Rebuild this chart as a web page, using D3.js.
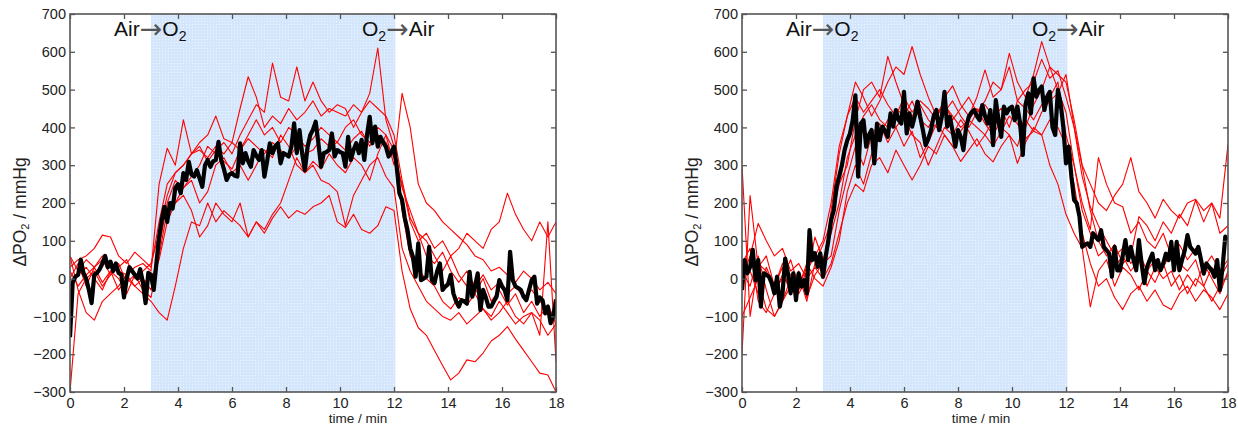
<!DOCTYPE html>
<html><head><meta charset="utf-8">
<script src="https://cdn.jsdelivr.net/npm/d3@7"></script>
<style>
html,body{margin:0;padding:0;background:#fff;}
svg{display:block;font-family:"Liberation Sans",Arial,sans-serif;}
</style></head><body>
<svg id="c" width="1238" height="427"></svg>
<script>
// ---------- data ----------
const xTicks=[0,2,4,6,8,10,12,14,16,18];
const yTicks=[-300,-200,-100,0,100,200,300,400,500,600,700];
const o2Start=3, o2End=12.05;
const meanStep=0.1, redStep=0.3;

// left panel: mean (black), sampled every 0.1 min
const leftMean=[
-155,-10,5,10,50,15,0,-30,-65,10,
15,25,40,60,30,45,20,40,15,10,
-50,0,30,20,10,0,25,-10,-65,15,
10,-30,40,110,155,190,150,200,185,240,
250,226,279,261,309,275,270,287,265,243,
300,314,296,310,314,362,314,290,261,275,
279,272,270,358,305,332,310,296,340,325,
314,340,270,310,358,332,350,358,305,332,
328,323,349,411,332,393,330,287,349,380,
394,415,358,296,332,335,340,384,323,340,
335,332,296,375,314,340,358,332,367,314,
380,428,358,402,349,375,360,349,323,335,
349,296,226,208,160,129,80,58,5,93,
-4,0,5,84,-4,-12,20,40,-30,-21,
-15,10,-39,-60,-74,-57,-60,-66,18,-48,
-20,14,-83,-30,-50,-74,-74,-60,-48,-4,
-20,-30,-57,71,-4,-21,-25,-30,-48,-57,
-30,-4,5,-66,-50,-57,-92,-74,-118,-100,
-55];
// left panel: individual traces (red), sampled every 0.3 min
const leftRed1=[60,20,50,30,60,40,20,10,30,40,20,
250,345,300,420,330,360,380,430,370,360,
450,534,480,400,430,410,450,420,440,470,
430,450,440,430,460,440,470,450,430,380,
260,160,120,60,40,70,20,-10,20,-20,
10,-30,-10,-40,-20,-50,-30,-60,-80,-100];
const leftRed2=[0,40,-20,30,50,10,30,50,0,20,40,
120,220,280,300,330,350,310,340,360,330,
380,420,460,440,570,480,470,560,470,520,
470,440,460,450,400,440,490,610,420,350,
240,180,120,100,60,20,60,10,-20,-40,
0,-60,-30,-70,-40,-90,-60,-100,-70,-120];
const leftRed3=[-20,10,30,0,-30,20,0,-40,10,-10,0,
50,150,200,240,260,200,230,300,320,280,
300,260,300,340,320,380,350,300,280,310,
290,330,300,280,320,300,260,330,380,300,
490,400,250,200,180,150,130,110,90,60,
50,20,30,10,-10,20,0,-30,-10,-40];
const leftRed4=[20,-20,10,30,-10,20,-30,0,-20,-40,-60,
-90,-110,-20,80,150,140,200,150,180,160,
140,110,150,120,160,190,160,180,170,190,
200,220,150,135,170,130,120,140,190,180,
20,-80,-130,-150,-190,-230,-268,-250,-215,-220,
-197,-165,-150,-127,-160,-190,-220,-250,-255,-300];
const leftRed5=[-300,-40,0,20,-20,10,40,-10,10,-30,-50,
60,180,200,220,180,110,140,200,170,150,
200,110,150,130,170,200,260,320,280,300,
260,250,230,140,220,260,300,320,270,240,
80,20,-20,-60,-80,-100,-110,-90,-120,-100,
-80,-110,-90,-60,-100,-120,-90,-110,-150,-120];
const leftRed6=[30,50,60,80,115,110,60,40,70,50,30,
150,250,280,300,330,340,320,350,330,360,
340,370,350,330,360,340,320,350,330,340,
370,350,360,340,370,390,350,380,360,320,
250,150,100,120,80,100,60,80,120,100,
80,130,150,226,170,130,100,150,110,150];
const leftRed7=[60,-30,-90,-110,-60,-40,-20,10,-20,0,-30,
80,200,260,240,270,300,350,330,310,290,
340,380,420,380,400,360,400,380,350,370,
400,380,360,400,420,380,360,400,380,340,
180,60,20,0,-20,-60,-80,-50,-70,-40,
-80,-100,-60,-90,-120,-100,-90,-150,150,-220];

// right panel
const rightMean=[
-30,49,14,31,76,-4,49,-74,14,10,
5,-12,-39,5,-74,-39,53,14,-39,14,
-57,14,-21,-4,-39,128,49,67,31,67,
5,58,102,155,181,243,270,300,340,366,
384,419,485,270,410,419,349,380,393,305,
410,366,402,390,375,437,402,446,420,410,
494,384,437,402,430,468,428,393,353,370,
393,430,446,393,428,494,402,428,390,349,
393,375,340,400,428,440,446,430,419,459,
430,410,446,353,472,420,375,455,437,450,
455,419,455,410,327,460,490,437,530,481,
499,508,446,481,494,400,380,499,464,402,
305,349,270,208,199,164,84,90,93,84,
120,110,102,128,84,75,66,5,84,22,
22,60,102,49,84,50,22,102,40,-12,
30,49,66,22,49,22,40,66,49,97,
22,97,22,50,75,115,84,75,66,84,
50,13,40,30,22,5,49,-30,31,111,
102];
const rightRed1=[300,-100,40,20,-30,0,50,-20,30,60,20,
180,330,430,520,480,430,470,520,560,540,
614,540,480,430,460,420,450,480,440,470,
520,500,560,470,500,520,580,530,550,480,
400,270,190,140,100,60,80,40,70,20,
50,30,70,40,20,50,-20,30,0,40];
const rightRed2=[-200,220,30,60,-20,30,-40,10,-60,40,90,
150,250,300,420,500,520,480,588,520,460,
430,460,420,400,440,470,430,400,440,460,
430,450,400,470,450,420,460,480,520,380,
300,200,130,320,250,200,190,120,150,100,
80,120,60,90,50,80,30,60,20,50];
const rightRed3=[0,60,146,100,60,80,20,40,0,110,50,
120,200,320,380,430,460,420,400,450,430,
470,420,400,440,460,430,400,420,450,410,
380,420,450,430,400,460,500,560,540,520,
420,300,250,200,180,220,250,320,230,200,
160,210,180,160,200,210,180,200,160,355];
const rightRed4=[-100,-50,0,-80,-100,-60,-20,-40,0,30,0,
40,120,200,250,230,300,320,280,340,300,
261,300,350,330,380,350,310,340,370,330,
309,350,380,305,360,400,380,420,400,350,
250,120,40,-20,0,-50,-82,-40,-20,-60,
-30,-70,-82,-40,-20,-60,-30,-50,-82,-40];
const rightRed5=[50,20,-40,30,-20,40,10,-30,20,60,100,
200,350,430,480,440,470,500,460,430,480,
440,470,450,420,480,510,460,430,480,552,
480,500,596,520,480,540,627,560,500,440,
300,180,120,60,80,30,60,20,50,-20,
30,0,20,-30,10,-20,40,0,-40,20];
const rightRed6=[40,80,-60,-90,-40,10,-30,20,-50,10,40,
60,180,270,350,300,380,410,360,400,430,
380,360,300,350,400,380,420,390,350,380,
420,400,380,350,420,390,380,300,250,170,
120,80,-75,20,50,-20,30,10,-30,20,
-10,40,-20,10,-40,0,-20,-60,-20,10];
const rightRed7=[20,-20,60,-30,-100,-60,0,-20,40,0,-20,
30,100,230,300,250,330,380,420,400,350,
390,320,360,410,380,350,390,420,400,380,
350,390,430,410,370,390,440,470,490,540,
402,296,180,100,60,90,40,60,164,140,
100,150,120,170,140,208,150,199,120,140];

// ---------- drawing ----------
const svg=d3.select("#c");
const defs=svg.append("defs");
const pat=defs.append("pattern").attr("id","dots").attr("width",3).attr("height",3)
  .attr("patternUnits","userSpaceOnUse");
pat.append("rect").attr("width",3).attr("height",3).attr("fill","#d4e6fb");
pat.append("rect").attr("width",1).attr("height",1).attr("fill","#eef5fe");

const TOP=14, BOTTOM=392, PW=486;
const y=d3.scaleLinear().domain([-300,700]).range([BOTTOM,TOP]);

function drawPanel(id,x0,mean,reds,labelX,ylabX,annot){
  const x=d3.scaleLinear().domain([0,18]).range([x0,x0+PW]);
  const g=svg.append("g");
  defs.append("clipPath").attr("id","clip"+id).append("rect")
    .attr("x",x0).attr("y",TOP).attr("width",PW).attr("height",BOTTOM-TOP);
  g.append("rect").attr("x",x(o2Start)).attr("y",TOP)
    .attr("width",x(o2End)-x(o2Start)).attr("height",BOTTOM-TOP).attr("fill","url(#dots)");
  const plot=g.append("g").attr("clip-path",`url(#clip${id})`);
  const lineR=d3.line().x((d,i)=>x(i*redStep)).y(d=>y(d));
  const lineM=d3.line().x((d,i)=>x(i*meanStep)).y(d=>y(d));
  reds.forEach(r=>{
    plot.append("path").attr("d",lineR(r)).attr("fill","none")
      .attr("stroke","#ff0000").attr("stroke-width",1.1).attr("stroke-linejoin","round");
  });
  plot.append("path").attr("d",lineM(mean)).attr("fill","none")
    .attr("stroke","#000").attr("stroke-width",4.2).attr("stroke-linejoin","round");

  const fmt=d3.format("d");
  const ax=[
    g.append("g").attr("transform",`translate(0,${BOTTOM})`)
      .call(d3.axisBottom(x).tickValues(xTicks).tickSize(-5).tickPadding(6).tickFormat(fmt)),
    g.append("g").attr("transform",`translate(0,${TOP})`)
      .call(d3.axisTop(x).tickValues(xTicks).tickSize(-5).tickFormat("")),
    g.append("g").attr("transform",`translate(${x0},0)`)
      .call(d3.axisLeft(y).tickValues(yTicks).tickSize(-5).tickPadding(4).tickFormat(fmt)),
    g.append("g").attr("transform",`translate(${x0+PW},0)`)
      .call(d3.axisRight(y).tickValues(yTicks).tickSize(-5).tickFormat(""))
  ];
  ax.forEach(a=>{
    a.select(".domain").remove();
    a.selectAll(".tick line").attr("stroke","#555").attr("stroke-width",1.3);
    a.selectAll(".tick text").attr("font-size",14.5).attr("fill","#222")
      .attr("font-family","'Liberation Sans',Arial,sans-serif");
  });
  g.append("rect").attr("x",x0).attr("y",TOP).attr("width",PW).attr("height",BOTTOM-TOP)
    .attr("fill","none").attr("stroke","#555").attr("stroke-width",1.6);

  // axis titles
  g.append("text").attr("x",labelX).attr("y",423).attr("text-anchor","middle")
    .attr("font-size",13.5).attr("fill","#222").text("time / min");
  const yl=g.append("text").attr("transform",`translate(${ylabX},212) rotate(-90)`)
    .attr("text-anchor","middle").attr("font-size",17.5).attr("fill","#222");
  yl.append("tspan").text("ΔPO");
  yl.append("tspan").attr("font-size",11).attr("dy",3).text("2");
  yl.append("tspan").attr("dy",-3).text(" / mmHg");

  // annotations
  const arrowFont="'DejaVu Sans',sans-serif";
  const a1=g.append("text").attr("x",annot[0]).attr("y",36).attr("font-size",21).attr("fill","#111");
  a1.append("tspan").text("Air");
  a1.append("tspan").attr("fill","#555").attr("font-family",arrowFont).attr("font-size",27).attr("dy",2).text("→");
  a1.append("tspan").attr("dy",-2).text("O");
  a1.append("tspan").attr("font-size",14).attr("dy",5).text("2");
  const a2=g.append("text").attr("x",annot[1]).attr("y",36).attr("font-size",21).attr("fill","#111");
  a2.append("tspan").text("O");
  a2.append("tspan").attr("font-size",14).attr("dy",5).text("2");
  a2.append("tspan").attr("fill","#555").attr("font-family",arrowFont).attr("font-size",27).attr("dy",-3).text("→");
  a2.append("tspan").attr("dy",-2).text("Air");
}

drawPanel("L",70,leftMean,[leftRed1,leftRed2,leftRed3,leftRed4,leftRed5,leftRed6,leftRed7],358,26,[114,362]);
drawPanel("R",742,rightMean,[rightRed1,rightRed2,rightRed3,rightRed4,rightRed5,rightRed6,rightRed7],981,698,[786,1032]);
</script>
</body></html>
